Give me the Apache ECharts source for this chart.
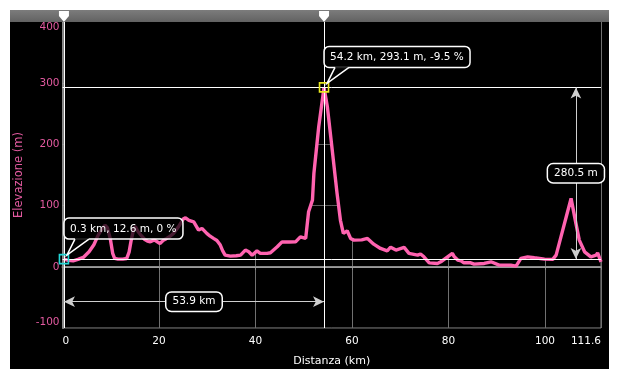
<!DOCTYPE html>
<html><head><meta charset="utf-8">
<script src="https://cdn.jsdelivr.net/npm/echarts@6/dist/echarts.min.js"></script>
<style>html,body{margin:0;padding:0;background:#fff;}#c{position:absolute;left:10px;top:10px;width:599px;height:359px;background:#000;}</style>
</head><body><div id="c"></div><script>
// distance (km) and elevation (m) of the profile
const distances = [0.3,0.5,1.2,2.2,3.2,4.3,5.5,6.5,7.4,8.2,8.8,9.3,9.9,10.4,10.8,11.5,12.5,13.3,13.8,14.2,14.7,15.1,15.6,16.2,17.0,17.6,18.2,19.0,20.2,21.0,21.5,22.3,23.0,24.0,25.0,25.5,26.2,27.2,28.2,28.9,29.9,30.6,31.3,32.0,32.4,32.7,33.2,33.7,34.8,36.0,36.9,37.9,38.6,39.3,40.3,41.0,42.4,43.1,44.5,45.5,47.0,48.3,49.3,49.7,50.4,51.0,51.8,52.1,53.1,54.2,54.9,55.9,56.9,57.6,58.2,59.0,59.7,60.4,62.0,63.2,64.5,65.9,67.3,68.0,69.1,69.4,70.8,71.8,72.2,73.6,74.2,74.9,76.0,77.7,78.4,79.8,80.1,80.8,81.2,81.9,82.6,83.2,84.6,85.3,87.4,88.8,90.5,90.9,92.9,94.0,95.0,96.4,97.8,99.9,101.6,102.3,103.3,104.4,105.4,106.4,107.1,108.2,109.5,110.6,110.9,111.6];
const elevations = [12.6,13.9,10.5,9.8,12,15.3,24.5,36,51.8,62,68,64,46,22,13.7,12.5,12.6,13.5,24,42,60,66,58,52,45,42,40.8,44,38,44,46,50,54.6,65,78,80,76,73.5,60,62.7,54.6,50,46.4,43,40.8,35.5,26,19.1,17.5,18,19,27.3,24.5,19,26,21.9,21.9,23,32.7,40.8,40.5,40.8,49,51.8,46.4,90,109,152.6,228.8,293.1,261,190.7,120,76,54.6,58.8,46.4,43.6,44,46.4,37,30,26,32,27.3,24.5,31.7,21.9,21.9,19,21,16.3,6.5,5.5,8.2,16.3,19,22,16.3,11,9.8,6.5,6.5,4.4,5.5,8.2,2.8,1.1,2.8,1.1,13.7,16.3,14.7,12.6,12.1,19,49,81.7,111.8,71,43.6,24.5,16.3,19,22.9,8.2];
const xMax = 111.6, xInterval = 20;
const yMin = -100, yMax = 400, yInterval = 100;
const yGridValues = [0,100,200,300,400];
const markerKm = [0.3, 54.2];
const markerElev = [12.6, 293.1];
const markerText = ['0.3 km, 12.6 m, 0 %', '54.2 km, 293.1 m, -9.5 %'];
const markerColors = ['#22d6d6', '#e8e81e'];
const distText = '53.9 km', elevText = '280.5 m';
const distArrowElev = -57, elevArrowKm = 106.4;

const FONT = 'DejaVu Sans';
const FS = 10.5;
const chart = echarts.init(document.getElementById('c'));
const pts = distances.map((d,i)=>[d, elevations[i]]);
const boxLabel = {show:true, position:'inside', color:'#fff', fontFamily:FONT, fontSize:FS,
  backgroundColor:'#000', borderColor:'#fff', borderWidth:1.5, borderRadius:5, padding:[4,6,3,6]};

chart.setOption({
  backgroundColor:'#000',
  animation:false,
  grid:{left:52.5, right:8, top:12, bottom:41, outerBoundsMode:'none', containLabel:false,
    show:true, borderColor:'#8a8a8a', borderWidth:1, backgroundColor:'transparent'},
  xAxis:{type:'value', min:0, max:xMax, interval:xInterval,
    name:'Distanza (km)', nameLocation:'middle', nameGap:28,
    nameTextStyle:{color:'#fff', fontFamily:FONT, fontSize:11},
    axisLine:{lineStyle:{color:'#8a8a8a', width:2}},
    axisTick:{show:true, length:3, lineStyle:{color:'#8a8a8a'}},
    axisLabel:{color:'#fff', fontFamily:FONT, fontSize:FS, margin:8, alignMaxLabel:'right', alignMinLabel:'left'},
    splitLine:{show:true, lineStyle:{color:'#707070', width:1}}},
  yAxis:{type:'value', min:yMin, max:yMax, interval:yInterval,
    name:'Elevazione (m)', nameLocation:'middle', nameGap:35,
    nameTextStyle:{color:'#e35aa0', fontFamily:FONT, fontSize:11.5},
    axisLine:{show:true, lineStyle:{color:'#8a8a8a', width:2}},
    axisTick:{show:false},
    axisLabel:{color:'#e35aa0', fontFamily:FONT, fontSize:FS, margin:3, verticalAlignMaxLabel:'top', verticalAlignMinLabel:'bottom'},
    splitLine:{show:true, lineStyle:{color:'#3c3c3c', width:1}}},
  series:[
    {type:'line', name:'mask', data:pts, showSymbol:false, silent:true, z:1,
     lineStyle:{width:0, opacity:0}, areaStyle:{origin:'end', color:'#000', opacity:1},
     markLine:{silent:true, symbol:'none', z:1, label:{show:false},
       lineStyle:{color:'rgba(255,255,255,0.16)', width:1, type:'solid'},
       data:yGridValues.map(v=>({yAxis:v}))}},
    {type:'line', name:'Elevazione', data:pts, showSymbol:false, z:6,
     lineStyle:{color:'#ff63b0', width:3.4}, itemStyle:{color:'#ff63b0'},
     markLine:{silent:true, symbol:'none', z:7, label:{show:false}, animation:false,
       lineStyle:{color:'#ffffff', width:1, type:'solid'},
       data:[
         ...markerKm.map(v=>({xAxis:v})),
         ...markerElev.map(v=>({yAxis:v})),
         [{coord:[markerKm[0], distArrowElev], symbol:'arrow', symbolSize:[8,11], lineStyle:{color:'#cfcfcf'}},
          {coord:[markerKm[1], distArrowElev], symbol:'arrow', symbolSize:[8,11]}],
         [{coord:[elevArrowKm, markerElev[0]], symbol:'arrow', symbolSize:[8,11], lineStyle:{color:'#cfcfcf'}},
          {coord:[elevArrowKm, markerElev[1]], symbol:'arrow', symbolSize:[8,11]}]
       ]},
     markPoint:{silent:true, z:8, animation:false,
       data:[
         ...markerKm.map((k,i)=>({coord:[k, markerElev[i]], symbol:'rect', symbolSize:9,
            itemStyle:{color:'rgba(0,0,0,0)', borderColor:markerColors[i], borderWidth:1.6}, label:{show:false}})),
         {coord:[(markerKm[0]+markerKm[1])/2, distArrowElev], symbol:'rect', symbolSize:1,
            itemStyle:{color:'rgba(0,0,0,0)'}, label:Object.assign({formatter:distText}, boxLabel)},
         {coord:[elevArrowKm, (markerElev[0]+markerElev[1])/2], symbol:'rect', symbolSize:1,
            itemStyle:{color:'rgba(0,0,0,0)'}, label:Object.assign({formatter:elevText}, boxLabel)}
       ]}}
  ]
});

// annotations positioned through the chart's own scales
const ctx = document.createElement('canvas').getContext('2d');
ctx.font = FS + 'px "' + FONT + '"';
const graphics = [{type:'rect', left:0, top:0, shape:{width:599, height:12}, z:20,
  style:{fill:new echarts.graphic.LinearGradient(0,0,0,1,[{offset:0,color:'#7c7c7c'},{offset:1,color:'#626262'}])}}];
markerKm.forEach((k,i)=>{
  const p = chart.convertToPixel({gridIndex:0}, [k, markerElev[i]]);
  const px = p[0], py = p[1];
  graphics.push({type:'polygon', z:21, shape:{points:[[px-5,1],[px+5,1],[px+5,6],[px,12],[px-5,6]]}, style:{fill:'#fff'}});
  const w = Math.round(ctx.measureText(markerText[i]).width) + 12, h = 21;
  const bx = px, by = py - 20 - h, ax = px + 3, ay = py - 4;
  graphics.push({type:'rect', z:30, shape:{x:bx, y:by, width:w, height:h, r:5},
    style:{fill:'rgba(0,0,0,0.72)', stroke:'#fff', lineWidth:1.5}});
  graphics.push({type:'polygon', z:31, shape:{points:[[bx+11,by+h-1],[bx+25,by+h-1],[bx+25,by+h+0.8],[ax,ay],[bx+11,by+h+0.8]]},
    style:{fill:'rgba(0,0,0,0.85)'}});
  graphics.push({type:'polyline', z:32, shape:{points:[[bx+11,by+h],[ax,ay],[bx+25,by+h]]},
    style:{fill:null, stroke:'#fff', lineWidth:1.5}});
  graphics.push({type:'text', z:33, x:bx+6, y:by+h/2+0.5, style:{text:markerText[i], fill:'#fff', font:FS+'px "'+FONT+'"', verticalAlign:'middle', align:'left'}});
});
chart.setOption({graphic:graphics});
</script></body></html>
